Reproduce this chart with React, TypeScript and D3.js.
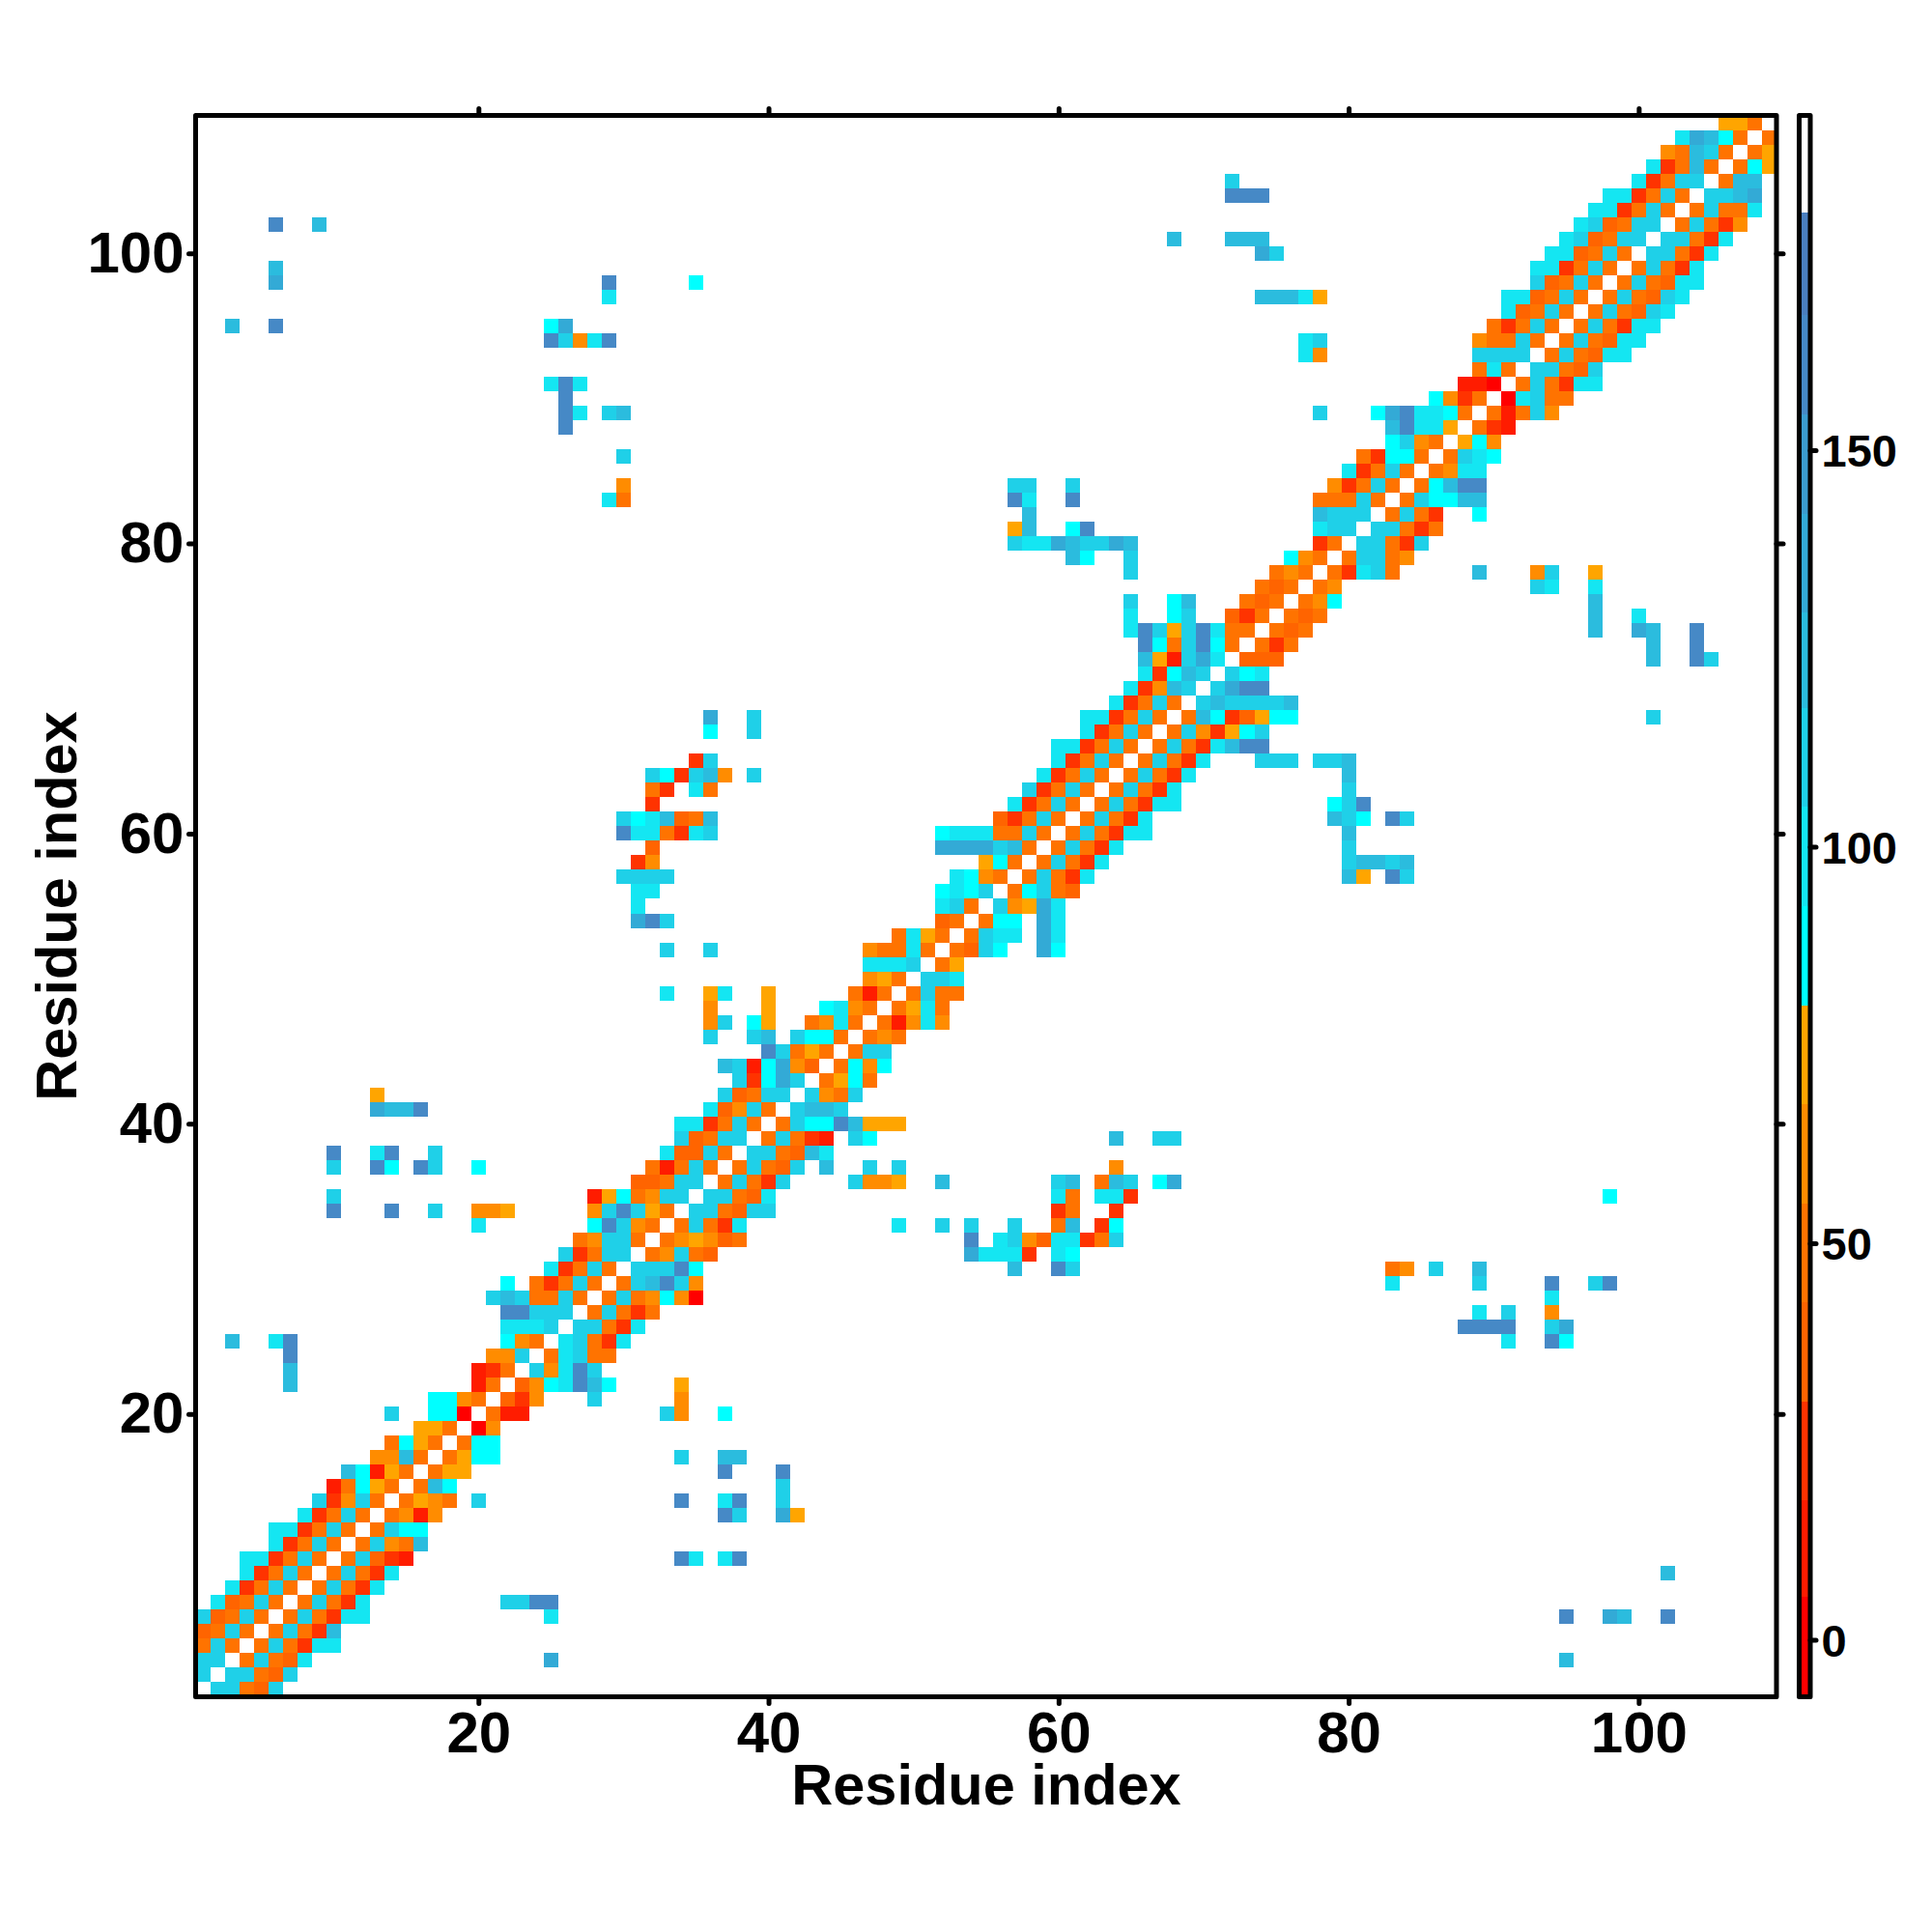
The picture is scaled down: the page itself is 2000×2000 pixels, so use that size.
import * as d3 from 'd3'
import React, { useEffect, useRef } from 'react'

// one entry per residue row (row 1 first), "startColumn:bandCodes", '.' is an empty cell
const contactRows = [
  '2:jjedj',
  '1:j.jjedj',
  '1:jj.ejedi 25:l 95:k',
  '1:eje.ejecii',
  '1:deje.ejeck',
  '1:jdeje.ejecii 25:i 95:n 98:lk 102:n',
  '2:ideje.ejeci 22:jjnn',
  '3:iceje.ejeci',
  '4:iceje.ejeci 102:k',
  '4:iiceje.ejdcb 34:ni 37:in',
  '6:iceje.ejfek',
  '6:iiceje.ejhh',
  '8:iceje.efbf 37:nj 41:lg',
  '9:jcfje.egfe 20:j 34:n 37:in 41:j',
  '10:behge.ekh 41:j',
  '11:khbge.egg 37:n 41:n',
  '13:ffke.eghh 34:j 37:kk',
  '14:ehge.ehh',
  '16:gge.af',
  '14:j 17:hha.ebb 33:jf 37:h',
  '17:hhfe.dcf 28:j 34:f',
  '7:k 20:be.dfhinkh 34:g',
  '7:k 20:bce.jfinj',
  '7:n 21:ffj.eijee',
  '3:k 6:in 22:hfe.ijeci 91:i 94:nh',
  '22:iiij.jjeci 88:nnnn 94:jl',
  '22:nnjjj.ejece 89:i 91:j 94:f',
  '21:jkjeeje.ejefhfa 94:i',
  '22:h 24:eceje.ejknjf 83:i 89:j 94:n 97:jn',
  '25:iceje.jjjnh 57:k 60:nj 83:ef 86:j 89:k',
  '26:jcejj.efjed 54:liiic 60:ih',
  '27:efjje.efgfde 54:n 56:ijfdiicej',
  '20:i 28:hnjfe.ejeci 49:i 52:j 54:j 57:j 60:ek 63:ch',
  '10:n 14:n 17:j 20:ffg 28:fjnjge.jjedjj 60:ce 64:c',
  '10:j 28:bghefjj.jjedi 60:ie 63:iic 98:h',
  '31:ddejj.ejecj 46:jffg 52:k 60:jk 63:ekj 67:hl',
  '10:j 13:nh 16:nj 20:h 32:ebeje.ejedj.k 47:j 49:j 64:f',
  '10:n 13:in 17:j 33:iddje.jjedki',
  '34:jdejj.ejecb 46:jh 64:k 67:jj',
  '34:iiceje.ejhhnkggg',
  '13:lkkn 36:idfje.jkkj',
  '13:g 37:jdejj.jfej',
  '38:jchlj.eghe',
  '37:kjbhlfd.ehfh',
  '40:njege.ejj',
  '36:j 39:jk 42:jhhe.efe',
  '36:fj 39:hg 43:efie.ebfif',
  '36:f 40:g 44:hife.egie',
  '33:i 36:gi 40:g 46:ebe.ejee',
  '47:fge.jji',
  '47:iiij.eg',
  '33:j 36:j 47:feeie.edjh 59:lh',
  '49:eige.ejii 59:li',
  '31:lnj 52:de.ehh 59:li',
  '31:i 52:ije.jfgli',
  '31:ii 52:hihj.ehjed',
  '30:jjjj 53:ihfe.ejeci 80:kg 83:nj',
  '31:cf 55:ghe.ejeci 80:jkkjk',
  '32:d 52:lllljke.ejeci 80:j',
  '30:niiecij 52:hiiieeje.ejecii 80:k',
  '30:jhikdek 56:dceje.ejeci 79:kjh 83:nj',
  '32:c 57:iceje.ejecii 79:hjn',
  '32:ec 35:ie 58:jceje.ejeci 80:j',
  '32:jhcjkf 39:j 59:iceje.ejeci 80:k',
  '35:cj 60:iceje.ejeci 74:jjj 78:jjk',
  '60:iiceje.ejeciknn',
  '36:h 39:j 62:iceje.ejfcghj',
  '36:l 39:j 62:iiceje.ekhcdghh 101:j',
  '64:iceje.jkjjjjk',
  '65:icfkj.jlnn',
  '66:ichkj.jhi',
  '66:kgbjli.ddd 101:k 104:nj',
  '66:nhejnhe.ece 101:k 104:n',
  '65:injgjniee.ede 97:k 100:lk 104:n',
  '65:i 68:hj 72:dce.ede 97:k 100:i',
  '65:j 68:hk 73:ede.efh 97:k',
  '74:ede.ef 93:ji 97:i',
  '65:j 75:efe.ecije 89:k 93:fj 97:g',
  '61:kh 65:j 76:hfe.ejjef',
  '57:jiilkjjlk 78:ce.jjecj',
  '57:gk 61:hn 78:ijj.jjece',
  '58:k 78:kjjj.ejec 89:h',
  '29:ie 57:ni 61:n 78:eeeje.ejhhkk',
  '30:f 57:jj 61:j 79:fceje.ehknn',
  '80:iceje.efii',
  '30:j 81:echhe.ejih',
  '83:hjfe.ghf',
  '26:n 83:kniig.ecb',
  '26:ni 29:jk 78:j 82:hlniihe.ebejf',
  '26:n 86:hfce.aijee',
  '25:ini 88:bba.ejecii',
  '89:eie.jjedj',
  '77:if 89:jjjj.ejedii',
  '25:njfin 77:ij 89:feeje.ejedii',
  '3:k 6:n 25:hl 90:eceje.ejecii',
  '91:ideje.ejedji',
  '29:i 74:kkkig 91:iideje.ejedji',
  '6:l 29:n 35:h 93:jdeje.ejedii',
  '6:k 93:iiceje.ejeci',
  '74:lj 94:iideje.jjeci',
  '68:k 72:kkk 95:ijdejj.jjeci',
  '6:n 9:k 96:ijdejj.ejecf',
  '97:iiceje.ejeei',
  '72:nnn 98:iiceje.jjkl',
  '72:j 100:icejj.ekk',
  '101:iceke.ehg',
  '102:fekje.eg',
  '103:ilkhe.e',
  '106:gge'
]

const bandCodes = 'abcdefghijklmnop'.split('')
const bandColors = [
  '#ff0000', '#ff1c00', '#ff3300', '#ff6400', '#ff7300', '#ff8c00', '#ffa500',
  '#00ffff', '#14e6f2', '#1fd0e8', '#2bbcde', '#33aad6', '#3c9ccf', '#4689c6', '#4a7fbf',
  '#ffffff'
]
const bandEdges = [-7.2, 5.4, 17.6, 30, 42.5, 55, 67.5, 80, 92.5, 105, 117.5, 129.5, 142, 154.5, 167, 180, 192.2]

const axisTicks = [20, 40, 60, 80, 100]
const barTicks = [0, 50, 100, 150]

const font = '"Liberation Sans", Arial, sans-serif'

export default function App() {
  const svgRef = useRef<SVGSVGElement>(null)

  useEffect(() => {
    if (!svgRef.current) return
    const svg = d3.select(svgRef.current)
    svg.selectAll('*').remove()

    const xScale = d3.scaleLinear().domain([0.5, 109.5]).range([202.5, 1839])
    const yScale = d3.scaleLinear().domain([0.5, 109.5]).range([1756.5, 119.5])
    const barScale = d3.scaleLinear().domain([-7.2, 192.2]).range([1756.5, 119.5])
    const bandColor = d3.scaleOrdinal<string, string>().domain(bandCodes).range(bandColors)

    const cells: { x: number; y: number; code: string }[] = []
    contactRows.forEach((row, r) => {
      row.split(' ').forEach(seg => {
        const [start, codes] = seg.split(':')
        codes.split('').forEach((code, i) => {
          if (code !== '.') cells.push({ x: +start + i, y: r + 1, code })
        })
      })
    })

    svg.append('g')
      .selectAll('rect')
      .data(cells)
      .join('rect')
      .attr('x', d => xScale(d.x - 0.5))
      .attr('y', d => yScale(d.y + 0.5))
      .attr('width', d => xScale(d.x + 0.5) - xScale(d.x - 0.5))
      .attr('height', d => yScale(d.y - 0.5) - yScale(d.y + 0.5))
      .attr('fill', d => bandColor(d.code))
      .attr('shape-rendering', 'crispEdges')

    const styleAxis = (g: any, size: number) => {
      g.select('.domain').remove()
      g.selectAll('line')
        .attr('stroke', '#000')
        .attr('stroke-width', 5)
        .attr('stroke-linecap', 'round')
      g.selectAll('text')
        .attr('fill', '#000')
        .attr('font-family', font)
        .attr('font-weight', 700)
        .attr('font-size', size)
    }

    svg.append('g')
      .attr('transform', 'translate(0,1756.5)')
      .call(d3.axisBottom(xScale).tickValues(axisTicks).tickSize(7).tickPadding(8))
      .call(styleAxis, 60)
    svg.append('g')
      .attr('transform', 'translate(0,119.5)')
      .call(d3.axisTop(xScale).tickValues(axisTicks).tickSize(7).tickFormat(() => ''))
      .call(styleAxis, 60)
    svg.append('g')
      .attr('transform', 'translate(202.5,0)')
      .call(d3.axisLeft(yScale).tickValues(axisTicks).tickSize(7).tickPadding(5))
      .call(styleAxis, 60)
    svg.append('g')
      .attr('transform', 'translate(1839,0)')
      .call(d3.axisRight(yScale).tickValues(axisTicks).tickSize(7).tickFormat(() => ''))
      .call(styleAxis, 60)

    svg.append('rect')
      .attr('x', 202.5)
      .attr('y', 119.5)
      .attr('width', 1636.5)
      .attr('height', 1637)
      .attr('fill', 'none')
      .attr('stroke', '#000')
      .attr('stroke-width', 5)
      .attr('stroke-linejoin', 'round')

    // colour key
    const barLeft = 1862.5
    const barRight = 1874
    svg.append('g')
      .selectAll('rect')
      .data(bandCodes)
      .join('rect')
      .attr('x', barLeft)
      .attr('width', barRight - barLeft)
      .attr('y', (_, i) => barScale(bandEdges[i + 1]))
      .attr('height', (_, i) => barScale(bandEdges[i]) - barScale(bandEdges[i + 1]))
      .attr('fill', d => bandColor(d))
      .attr('shape-rendering', 'crispEdges')

    svg.append('g')
      .attr('transform', `translate(${barRight},0)`)
      .call(d3.axisRight(barScale).tickValues(barTicks).tickSize(6).tickPadding(5.5))
      .call(styleAxis, 47)
      .call((g: any) => g.selectAll('text').attr('dy', '0.36em'))

    svg.append('rect')
      .attr('x', barLeft)
      .attr('y', 119.5)
      .attr('width', barRight - barLeft)
      .attr('height', 1637)
      .attr('fill', 'none')
      .attr('stroke', '#000')
      .attr('stroke-width', 5)
      .attr('stroke-linejoin', 'round')

    svg.append('text')
      .attr('x', 1021)
      .attr('y', 1868)
      .attr('text-anchor', 'middle')
      .attr('font-family', font)
      .attr('font-weight', 700)
      .attr('font-size', 59.5)
      .text('Residue index')

    svg.append('text')
      .attr('transform', 'translate(79,938) rotate(-90)')
      .attr('text-anchor', 'middle')
      .attr('font-family', font)
      .attr('font-weight', 700)
      .attr('font-size', 59.5)
      .text('Residue index')
  }, [])

  return (
    <svg
      ref={svgRef}
      width={2000}
      height={2000}
      style={{ position: 'absolute', left: 0, top: 0, background: '#fff' }}
      role="img"
      aria-label="Residue contact map"
    />
  )
}
